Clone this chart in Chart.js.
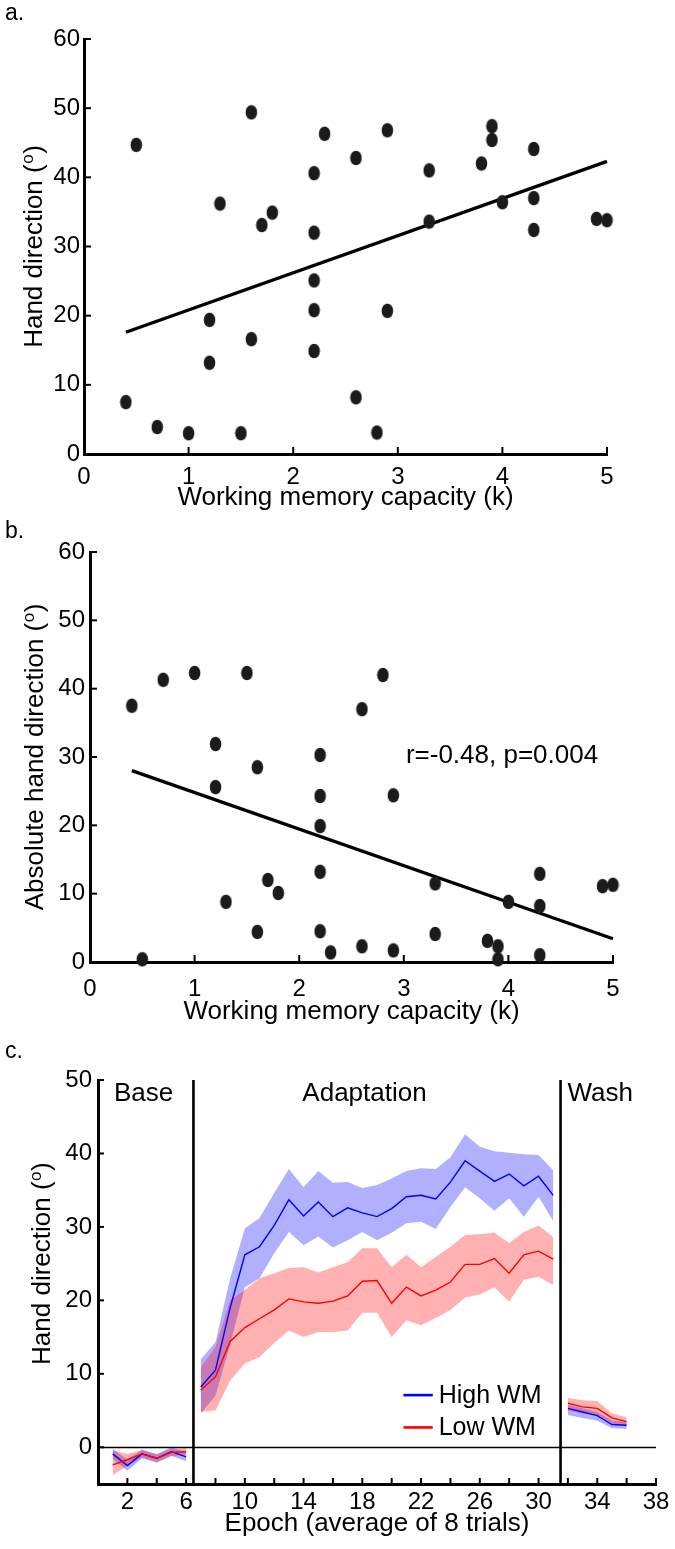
<!DOCTYPE html>
<html>
<head>
<meta charset="utf-8">
<style>
html, body { margin: 0; padding: 0; background: #fff; }
#wrap { position: relative; width: 675px; height: 1549px; }
canvas { position: absolute; left: 0; }
</style>
<script src="https://cdn.jsdelivr.net/npm/chart.js@4.4.1/dist/chart.umd.min.js"></script>
</head>
<body>
<div id="wrap">
  <canvas id="chartA" width="675" height="515" style="top:0"></canvas>
  <canvas id="chartB" width="675" height="515" style="top:515px"></canvas>
  <canvas id="chartC" width="675" height="519" style="top:1030px"></canvas>
</div>
<script>
const FONT = "'Liberation Sans', Arial, sans-serif";

// panels a and b: one point per participant
const wmCapacity = [0.4, 0.5, 0.7, 1.0, 1.2, 1.2, 1.3, 1.5, 1.6, 1.6, 1.7, 1.8, 2.2, 2.2, 2.2, 2.2, 2.2, 2.3,
  2.6, 2.6, 2.8, 2.9, 2.9, 3.3, 3.3, 3.8, 3.9, 3.9, 4.0, 4.3, 4.3, 4.3, 4.9, 5.0];
const handDir = [7.5, 44.7, 3.9, 3.0, 19.4, 13.2, 36.2, 3.0, 49.4, 16.6, 33.1, 34.9, 40.6, 32.0, 25.1, 20.8, 14.9, 46.3,
  42.8, 8.2, 3.1, 46.8, 20.7, 41.0, 33.6, 42.0, 47.4, 45.4, 36.4, 44.1, 37.0, 32.4, 34.0, 33.8];
const absHandDir = [37.5, 0.4, 41.3, 42.3, 31.9, 25.6, 8.8, 42.3, 28.5, 4.4, 12.0, 10.1, 30.3, 24.3, 19.9, 13.2, 4.5, 1.4,
  37.0, 2.3, 42.0, 24.4, 1.7, 11.5, 4.1, 3.1, 2.3, 0.4, 8.8, 12.9, 8.2, 1.0, 11.1, 11.3];
const fitAX = [0.4, 5.0];
const fitAY = [17.6, 42.3];
const fitBX = [0.4, 5.0];
const fitBY = [28.0, 3.4];
const capTicks = [0, 1, 2, 3, 4, 5];
const dirTicks = [0, 10, 20, 30, 40, 50, 60];

// panel c: epoch means and shaded bands
const epochs = [1, 2, 3, 4, 5, 6, 7, 8, 9, 10, 11, 12, 13, 14, 15, 16, 17, 18, 19, 20, 21, 22, 23, 24, 25, 26, 27, 28,
  29, 30, 31, 32, 33, 34, 35, 36];
const highMean = [-0.9, -2.5, -0.9, -1.5, -0.6, -1.3,
  8.2, 10.5, 19.0, 26.2, 27.3, 30.2, 33.7, 31.5, 33.4, 31.4, 32.6, 31.9, 31.4, 32.5, 34.1, 34.3, 33.8, 36.1, 39.0,
  37.6, 36.2, 37.2, 35.6, 36.9, 34.3,
  5.3, 4.8, 4.3, 3.1, 3.0];
const highUpper = [-0.2, -1.7, -0.3, -0.9, 0.0, -0.7,
  12.0, 14.3, 23.0, 29.8, 31.2, 34.6, 37.9, 35.4, 37.6, 36.0, 36.1, 35.3, 35.7, 36.6, 37.6, 38.0, 37.9, 39.5, 42.6,
  40.9, 40.3, 40.1, 39.9, 39.8, 37.7,
  5.8, 5.3, 4.8, 3.6, 3.5];
const highLower = [-1.6, -3.2, -1.5, -2.1, -1.2, -1.9,
  4.6, 7.0, 14.0, 21.8, 23.0, 26.4, 29.3, 27.5, 28.7, 27.2, 28.2, 29.3, 28.2, 29.2, 30.5, 30.7, 29.7, 32.7, 35.4,
  33.9, 32.2, 33.9, 31.4, 34.1, 30.8,
  4.4, 4.0, 3.6, 2.6, 2.5];
const lowMean = [-2.4, -1.7, -0.9, -1.5, -0.7, -0.6,
  7.8, 9.6, 14.4, 16.3, 17.5, 18.7, 20.2, 19.8, 19.6, 19.9, 20.6, 22.6, 22.7, 19.6, 21.8, 20.6, 21.4, 22.5, 24.9,
  24.9, 25.7, 23.7, 26.2, 26.7, 25.6,
  6.0, 5.5, 5.3, 4.0, 3.5];
const lowUpper = [-0.4, -0.9, -0.4, -1.0, -0.2, -0.1,
  10.9, 13.6, 20.0, 21.4, 23.0, 23.7, 24.4, 24.5, 23.8, 24.5, 25.2, 27.1, 27.1, 24.5, 26.2, 24.5, 25.9, 27.3, 28.9,
  29.0, 29.2, 27.8, 29.3, 30.2, 28.6,
  6.7, 6.4, 6.3, 4.6, 4.1];
const lowLower = [-3.8, -2.5, -1.4, -2.0, -1.2, -1.1,
  4.8, 5.0, 9.1, 11.4, 12.3, 14.2, 15.9, 15.0, 15.7, 15.7, 15.9, 18.3, 18.3, 15.0, 17.3, 16.6, 17.6, 18.7, 20.4,
  20.8, 21.8, 19.8, 22.8, 23.2, 22.1,
  5.0, 4.6, 4.4, 3.3, 2.8];
const phaseNames = ["Base", "Adaptation", "Wash"];
const phaseStart = [0, 6, 31];
const phaseEnd = [6, 31, 36];
const phaseBreaks = [6.5, 31.5];
const epochTickMarks = [2, 4, 6, 8, 10, 12, 14, 16, 18, 20, 22, 24, 26, 28, 30, 32, 34, 36, 38];
const epochTickLabels = [2, 6, 10, 14, 18, 22, 26, 30, 34, 38];
const cDirTicks = [0, 10, 20, 30, 40, 50];

function makeDot() {
  const c = document.createElement("canvas");
  c.width = 13; c.height = 16;
  const g = c.getContext("2d");
  g.fillStyle = "#1b1b1b";
  g.beginPath();
  g.ellipse(6.5, 8, 5.8, 7.3, 0, 0, Math.PI * 2);
  g.fill();
  return c;
}
const dot = makeDot();

function seg(ctx, x1, y1, x2, y2) {
  ctx.beginPath(); ctx.moveTo(x1, y1); ctx.lineTo(x2, y2); ctx.stroke();
}

function drawYTitle(ctx, text, x, cy) {
  const big = "26px " + FONT, small = "17px " + FONT;
  ctx.save();
  ctx.translate(x, cy);
  ctx.rotate(-Math.PI / 2);
  ctx.textAlign = "left";
  ctx.textBaseline = "alphabetic";
  ctx.font = big;
  const w1 = ctx.measureText(text + " (").width;
  const w3 = ctx.measureText(")").width;
  ctx.font = small;
  const w2 = ctx.measureText("o").width + 1;
  const start = -(w1 + w2 + w3) / 2;
  ctx.font = big;
  ctx.fillText(text + " (", start, 0);
  ctx.fillText(")", start + w1 + w2, 0);
  ctx.font = small;
  ctx.fillText("o", start + w1 + 0.5, -9);
  ctx.restore();
}

const decor = {
  id: "decor",
  beforeDatasetsDraw(chart, args, o) {
    if (!o.zeroLine) return;
    const { ctx, chartArea: ca, scales: { y } } = chart;
    ctx.save();
    ctx.strokeStyle = "#000";
    ctx.lineWidth = 1.3;
    const py = Math.round(y.getPixelForValue(0)) + 0.5;
    seg(ctx, ca.left, py, ca.right, py);
    ctx.restore();
  },
  afterDraw(chart, args, o) {
    const { ctx, chartArea: ca, scales: { x, y } } = chart;
    ctx.save();
    ctx.strokeStyle = "#000";
    ctx.fillStyle = "#000";
    ctx.lineWidth = 2;
    x.ticks.forEach(t => {
      const px = x.getPixelForValue(t.value);
      seg(ctx, px, ca.bottom, px, ca.bottom - o.tickLen);
    });
    y.ticks.forEach(t => {
      const py = y.getPixelForValue(t.value);
      seg(ctx, ca.left, py, ca.left + o.tickLen, py);
    });

    if (o.breaks) {
      ctx.lineWidth = 2.6;
      const top = y.getPixelForValue(y.max);
      o.breaks.forEach(b => {
        const px = x.getPixelForValue(b);
        seg(ctx, px, top, px, ca.bottom);
      });
    }

    // panel letter
    ctx.font = "23px " + FONT;
    ctx.textAlign = "left";
    ctx.textBaseline = "alphabetic";
    ctx.fillText(o.letter, 5, o.letterY);

    // axis titles
    ctx.font = "26px " + FONT;
    ctx.textAlign = "center";
    ctx.fillText(o.xTitle, (ca.left + ca.right) / 2, o.xTitleY);
    drawYTitle(ctx, o.yTitle, o.yTitleX, y.getPixelForValue(o.yTitleMid));

    if (o.note) {
      ctx.textAlign = "left";
      ctx.fillText(o.note, x.getPixelForValue(o.noteX), y.getPixelForValue(o.noteY));
    }

    if (o.phases) {
      ctx.textAlign = "center";
      o.phases.forEach((name, i) => {
        ctx.fillText(name, x.getPixelForValue(o.phaseX[i]), y.getPixelForValue(o.phaseY));
      });
    }

    if (o.legend) {
      ctx.font = "25px " + FONT;
      ctx.textAlign = "left";
      ctx.textBaseline = "middle";
      o.legend.forEach((name, i) => {
        const py = y.getPixelForValue(o.legendY[i]);
        ctx.strokeStyle = o.legendColors[i];
        ctx.lineWidth = 2.6;
        seg(ctx, x.getPixelForValue(o.legendX[0]), py, x.getPixelForValue(o.legendX[1]), py);
        ctx.fillText(name, x.getPixelForValue(o.legendX[2]), py + 1);
      });
    }
    ctx.restore();
  }
};

function tickFont() { return { family: FONT, size: 24 }; }

function scatterPanel(id, ys, fitX, fitY, lay, decorOpts) {
  return new Chart(document.getElementById(id), {
    type: "scatter",
    data: {
      datasets: [
        {
          data: fitX.map((x, i) => ({ x, y: fitY[i] })),
          showLine: true, borderColor: "#000", borderWidth: 3.3, pointRadius: 0, clip: false, order: 1
        },
        {
          data: wmCapacity.map((x, i) => ({ x, y: ys[i] })),
          pointStyle: dot, pointRadius: 7, backgroundColor: "#1b1b1b", borderWidth: 0, clip: false, order: 0
        }
      ]
    },
    options: {
      responsive: false, animation: false, events: [],
      layout: { padding: { left: 0, top: lay.top, right: lay.right, bottom: 0 } },
      plugins: { legend: { display: false }, tooltip: { enabled: false }, decor: decorOpts },
      scales: {
        x: {
          type: "linear", min: 0, max: 5,
          afterBuildTicks: s => { s.ticks = capTicks.map(v => ({ value: v })); },
          afterFit: s => { s.height = lay.xh; },
          grid: { display: false, drawTicks: false },
          border: { color: "#000", width: 3 },
          ticks: { padding: lay.xpad, color: "#000", font: tickFont(), maxRotation: 0, autoSkip: false }
        },
        y: {
          type: "linear", min: 0, max: 60,
          afterBuildTicks: s => { s.ticks = dirTicks.map(v => ({ value: v })); },
          afterFit: s => { s.width = lay.left; },
          grid: { display: false, drawTicks: false },
          border: { color: "#000", width: 3 },
          ticks: { padding: lay.ypad, color: "#000", font: tickFont(), autoSkip: false }
        }
      }
    },
    plugins: [decor]
  });
}

scatterPanel("chartA", handDir, fitAX, fitAY,
  { top: 39, right: 68, left: 84, xh: 61, xpad: 9, ypad: 4 },
  { tickLen: 7, letter: "a.", letterY: 20, xTitle: "Working memory capacity (k)", xTitleY: 505,
    yTitle: "Hand direction", yTitleX: 42, yTitleMid: 30 });

scatterPanel("chartB", absHandDir, fitBX, fitBY,
  { top: 37, right: 62, left: 90, xh: 68, xpad: 13, ypad: 5 },
  { tickLen: 7, letter: "b.", letterY: 23, xTitle: "Working memory capacity (k)", xTitleY: 504,
    yTitle: "Absolute hand direction", yTitleX: 43, yTitleMid: 30,
    note: "r=-0.48, p=0.004", noteX: 3.02, noteY: 29.1 });

// panel c datasets: band (upper fills to lower) + mean line, per group and phase
const groups = [
  { mean: highMean, up: highUpper, lo: highLower, line: "#0000ff", band: "rgba(0,0,255,0.31)", lineOrder: 1, bandOrder: 3 },
  { mean: lowMean, up: lowUpper, lo: lowLower, line: "#ff0000", band: "rgba(255,0,0,0.31)", lineOrder: 0, bandOrder: 2 }
];
const datasetsC = [];
groups.forEach(g => {
  phaseStart.forEach((a, p) => {
    const b = phaseEnd[p];
    const pts = arr => epochs.slice(a, b).map((e, i) => ({ x: e, y: arr[a + i] }));
    datasetsC.push({ data: pts(g.up), borderColor: "transparent", borderWidth: 0, pointRadius: 0,
      fill: "+1", backgroundColor: g.band, order: g.bandOrder });
    datasetsC.push({ data: pts(g.lo), borderColor: "transparent", borderWidth: 0, pointRadius: 0,
      fill: false, order: g.bandOrder });
    datasetsC.push({ data: pts(g.mean), borderColor: g.line, borderWidth: 1.4, pointRadius: 0,
      fill: false, order: g.lineOrder });
  });
});

new Chart(document.getElementById("chartC"), {
  type: "line",
  data: { datasets: datasetsC },
  options: {
    responsive: false, animation: false, events: [],
    layout: { padding: { left: 0, top: 50, right: 19, bottom: 0 } },
    plugins: {
      legend: { display: false }, tooltip: { enabled: false },
      decor: {
        tickLen: 6, letter: "c.", letterY: 28, xTitle: "Epoch (average of 8 trials)", xTitleY: 501,
        yTitle: "Hand direction", yTitleX: 50, yTitleMid: 25, zeroLine: true, breaks: phaseBreaks,
        phases: phaseNames, phaseX: [3.1, 18.15, 34.2], phaseY: 47.1,
        legend: ["High WM", "Low WM"], legendColors: ["#0000ff", "#ff0000"],
        legendX: [20.8, 22.8, 23.2], legendY: [7.1, 2.7]
      }
    },
    scales: {
      x: {
        type: "linear", min: 0, max: 38,
        afterBuildTicks: s => { s.ticks = epochTickMarks.map(v => ({ value: v })); },
        afterFit: s => { s.height = 65; },
        grid: { display: false, drawTicks: false },
        border: { color: "#000", width: 3 },
        ticks: { padding: 4, color: "#000", font: tickFont(), maxRotation: 0, autoSkip: false,
          callback: v => epochTickLabels.includes(v) ? String(v) : "" }
      },
      y: {
        type: "linear", min: -5, max: 50,
        afterBuildTicks: s => { s.ticks = cDirTicks.map(v => ({ value: v })); },
        afterFit: s => { s.width = 98; },
        grid: { display: false, drawTicks: false },
        border: { color: "#000", width: 3 },
        ticks: { padding: 6, color: "#000", font: tickFont(), autoSkip: false }
      }
    }
  },
  plugins: [decor]
});
</script>
</body>
</html>
